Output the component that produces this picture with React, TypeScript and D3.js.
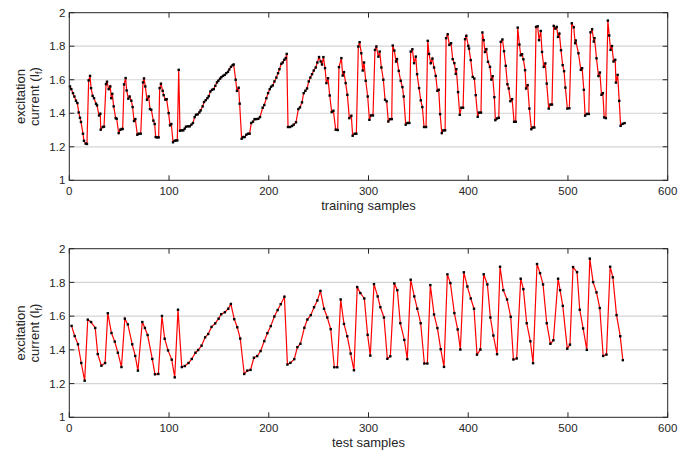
import React, { useEffect, useRef } from 'react';
import * as d3 from 'd3';

// training samples (x = sample index, y = excitation current)
const trainX = [
  0.7, 2.0, 3.7, 5.1, 6.7, 8.1, 9.4, 10.7, 11.7, 13.7, 14.7, 16.4, 17.7, 19.4, 20.8, 21.8, 23.4, 24.8, 26.8, 27.8,
  29.8, 31.1, 31.5, 33.5, 34.8, 36.8, 37.8, 39.5, 41.1, 42.1, 43.1, 44.5, 46.5, 47.5, 49.5, 51.2, 52.5, 53.5, 54.9, 56.5,
  57.5, 59.2, 60.5, 62.2, 63.5, 64.9, 66.2, 68.2, 69.6, 71.6, 73.9, 74.9, 76.2, 77.9, 79.6, 80.9, 82.2, 84.3, 85.6, 86.6,
  87.9, 89.6, 90.6, 91.9, 93.6, 94.6, 96.3, 97.6, 99.6, 101, 102.3, 104, 105.6, 107.3, 108.3, 109.7, 111, 112.7, 114.3, 115.7,
  117, 119, 120.7, 122.4, 124, 125.7, 127, 128.7, 130.4, 131.7, 133.7, 135.1, 136.8, 138.5, 139.8, 141.5, 143.1, 144.8, 146.4, 148.1,
  149.4, 151.1, 152.4, 154.1, 155.8, 157.4, 159.1, 160.4, 162.1, 163.8, 164.8, 166.8, 168.1, 169.8, 170.8, 172.8, 174.2, 175.8, 177.5, 179.2,
  180.8, 182.5, 184.2, 185.8, 187.5, 189.5, 191.2, 193.9, 195.5, 197.6, 199.3, 201, 202.3, 204, 205.7, 207.6, 209.3, 210.7, 212.6, 214,
  215.6, 217, 218, 219.3, 221.3, 223.3, 225, 227.3, 229.7, 231.3, 233.3, 235, 236.7, 238.4, 240.1, 241.7, 243.4, 245.1, 247.1, 248.7,
  250.4, 252.1, 253.4, 254.8, 256.4, 257.8, 259.4, 261.1, 263.1, 264.8, 267.1, 269.1, 270.4, 272.8, 274.1, 275.4, 277.1, 278.8, 280.8, 282.8,
  284.1, 286.1, 287.8, 289.8, 291.1, 292.8, 294.2, 295.5, 297.2, 299.2, 300.9, 302.5, 304.5, 306.5, 307.9, 309.9, 311.2, 312.9, 314.9, 316.6,
  318.2, 319.9, 321.6, 323.3, 324.3, 325.9, 327.6, 328.6, 330.3, 332.3, 334, 335.3, 337.3, 339, 341, 342.3, 344, 345.7, 347.4, 348.7,
  350.7, 352.4, 354, 355.7, 357.7, 359.4, 360.7, 362.4, 364.1, 365.7, 367.4, 369.1, 370.4, 371.8, 373.5, 375.1, 376.8, 377.8, 379.4, 381.1,
  382.8, 384.4, 386.1, 387.5, 388.1, 389.8, 391.5, 393.1, 394.8, 396.8, 398.1, 400.1, 400.8, 402.5, 404.5, 406.1, 407.5, 409.5, 410.8, 412.8,
  414.2, 415.5, 416.8, 418.2, 419.8, 421.8, 423.2, 424.5, 426.2, 427.2, 428.9, 430.6, 432.6, 434.3, 435.9, 437.6, 439.3, 440.6, 442.3, 444,
  446, 447.6, 449.6, 451.3, 452.6, 454, 455.3, 457, 458, 459.6, 461.3, 463.3, 464.6, 466.3, 468, 469.6, 471, 472.7, 474, 475.7,
  477.3, 478.7, 480.7, 482.4, 484, 485.7, 487.4, 488.7, 490, 491.4, 493, 494.7, 496.1, 497.4, 499.4, 501.4, 503.8, 505.8, 507.2, 507.8,
  510.5, 512.9, 514.2, 515.9, 517.2, 518.9, 520.9, 522.6, 524.2, 525.9, 526.6, 528.6, 530.6, 532, 533.6, 535, 536.3, 538, 540, 541.4,
  542.7, 544.1, 545.7, 547.4, 548.1, 549.8, 551.4, 552.8, 554.8, 556.8,
];
const trainY = [
  1.56, 1.544, 1.52, 1.5, 1.475, 1.461, 1.405, 1.373, 1.348, 1.278, 1.236, 1.219, 1.217, 1.596, 1.623, 1.55, 1.504, 1.49, 1.457, 1.447,
  1.387, 1.397, 1.302, 1.318, 1.32, 1.574, 1.588, 1.544, 1.56, 1.49, 1.516, 1.441, 1.371, 1.367, 1.282, 1.302, 1.306, 1.306, 1.572, 1.61,
  1.536, 1.487, 1.5, 1.475, 1.437, 1.354, 1.365, 1.272, 1.278, 1.278, 1.584, 1.608, 1.56, 1.481, 1.5, 1.425, 1.421, 1.356, 1.336, 1.258,
  1.256, 1.256, 1.55, 1.576, 1.534, 1.508, 1.481, 1.484, 1.401, 1.328, 1.336, 1.227, 1.236, 1.238, 1.238, 1.659, 1.296, 1.298, 1.298, 1.308,
  1.32, 1.322, 1.322, 1.332, 1.342, 1.377, 1.391, 1.393, 1.405, 1.417, 1.441, 1.467, 1.478, 1.49, 1.502, 1.53, 1.54, 1.544, 1.564, 1.584,
  1.594, 1.606, 1.615, 1.623, 1.629, 1.639, 1.647, 1.661, 1.677, 1.687, 1.691, 1.6, 1.534, 1.552, 1.457, 1.248, 1.258, 1.258, 1.272, 1.278,
  1.278, 1.342, 1.35, 1.365, 1.365, 1.367, 1.377, 1.433, 1.449, 1.49, 1.52, 1.544, 1.558, 1.566, 1.59, 1.613, 1.639, 1.663, 1.695, 1.703,
  1.719, 1.729, 1.754, 1.318, 1.318, 1.324, 1.332, 1.346, 1.425, 1.435, 1.465, 1.52, 1.534, 1.548, 1.59, 1.613, 1.633, 1.655, 1.673, 1.703,
  1.735, 1.709, 1.691, 1.735, 1.669, 1.58, 1.609, 1.506, 1.407, 1.415, 1.302, 1.3, 1.675, 1.729, 1.625, 1.645, 1.58, 1.51, 1.371, 1.385,
  1.266, 1.278, 1.278, 1.798, 1.824, 1.758, 1.655, 1.703, 1.594, 1.5, 1.361, 1.387, 1.387, 1.778, 1.798, 1.738, 1.768, 1.673, 1.6, 1.481,
  1.471, 1.351, 1.365, 1.365, 1.804, 1.774, 1.709, 1.723, 1.653, 1.594, 1.556, 1.5, 1.332, 1.342, 1.342, 1.768, 1.782, 1.699, 1.738, 1.633,
  1.55, 1.477, 1.437, 1.318, 1.318, 1.832, 1.754, 1.699, 1.726, 1.673, 1.623, 1.534, 1.54, 1.395, 1.282, 1.298, 1.298, 1.848, 1.871, 1.808,
  1.818, 1.723, 1.699, 1.635, 1.663, 1.526, 1.391, 1.433, 1.433, 1.842, 1.862, 1.802, 1.786, 1.717, 1.617, 1.607, 1.508, 1.379, 1.404, 1.404,
  1.882, 1.836, 1.766, 1.782, 1.707, 1.677, 1.601, 1.621, 1.496, 1.359, 1.369, 1.373, 1.826, 1.84, 1.77, 1.683, 1.573, 1.548, 1.472, 1.484,
  1.349, 1.349, 1.911, 1.81, 1.746, 1.752, 1.722, 1.657, 1.548, 1.567, 1.428, 1.305, 1.315, 1.315, 1.915, 1.919, 1.836, 1.891, 1.766, 1.677,
  1.697, 1.577, 1.428, 1.452, 1.452, 1.921, 1.905, 1.915, 1.856, 1.875, 1.776, 1.687, 1.651, 1.553, 1.428, 1.43, 1.937, 1.913, 1.818, 1.834,
  1.758, 1.659, 1.669, 1.54, 1.386, 1.396, 1.396, 1.883, 1.901, 1.828, 1.848, 1.728, 1.623, 1.643, 1.51, 1.52, 1.375, 1.371, 1.953, 1.864,
  1.778, 1.801, 1.709, 1.719, 1.583, 1.629, 1.474, 1.325, 1.337, 1.341,
];

// test samples
const testX = [
  2.3, 5.4, 8.7, 12, 15.4, 18.5, 21.8, 26, 28.5, 32.2, 35.9, 38.6, 42.3, 45.6, 48.7, 52.3, 55.7, 58.7, 63.1, 66.1,
  68.8, 73.2, 75.8, 78.5, 83.2, 85.9, 89.3, 92.9, 95.6, 99, 102.7, 105.7, 109, 112.8, 115.8, 119.5, 122.8, 126.5, 129.2, 132.6,
  136.2, 139.3, 142.6, 146.3, 149.7, 152.3, 156, 159.4, 162, 165.4, 168.4, 171.4, 175.4, 178.5, 181.7, 185.1, 188.4, 191.8, 195.5, 198.6,
  202, 205.6, 208.9, 212, 215.7, 218.7, 221.7, 225.6, 228.7, 231.7, 235.7, 238.7, 242.1, 245.4, 248.7, 251.8, 255.4, 258.7, 262.1, 265.7,
  268.7, 272.1, 275.4, 278.7, 282.1, 285.4, 288.7, 291.8, 295.8, 299.1, 301.8, 305.5, 309.2, 311.9, 315.5, 318.9, 321.9, 325.9, 328.9, 331.9,
  335.9, 338.9, 342.3, 345.9, 348.9, 352.3, 356, 359, 362, 365.7, 369.1, 372.4, 375.7, 379.1, 382.1, 386.1, 389.4, 392.1, 395.6, 399.1,
  402.5, 405.8, 408.8, 412.2, 415.5, 419.2, 422.2, 425.2, 428.9, 431.9, 435.2, 438.9, 442.6, 445.3, 448.6, 452.6, 455.3, 458.6, 462.3, 465,
  469, 472, 475, 478.7, 482.4, 485.4, 490.1, 492.1, 494.8, 499.3, 502, 505.1, 509.1, 511.8, 515.2, 518.9, 521.9, 525.2, 528.6, 531.9,
  535.3, 538.6, 542.3, 545, 548.7, 552.4, 555,
];
const testY = [
  1.542, 1.482, 1.433, 1.322, 1.217, 1.579, 1.565, 1.53, 1.375, 1.306, 1.322, 1.617, 1.5, 1.449, 1.383, 1.298, 1.585, 1.551, 1.433, 1.364,
  1.277, 1.565, 1.53, 1.488, 1.346, 1.255, 1.257, 1.601, 1.466, 1.397, 1.342, 1.237, 1.638, 1.298, 1.304, 1.322, 1.346, 1.383, 1.399, 1.425,
  1.474, 1.494, 1.536, 1.557, 1.585, 1.611, 1.623, 1.644, 1.672, 1.582, 1.534, 1.467, 1.257, 1.277, 1.281, 1.353, 1.363, 1.393, 1.452, 1.499,
  1.541, 1.598, 1.636, 1.671, 1.715, 1.313, 1.323, 1.345, 1.416, 1.436, 1.531, 1.58, 1.606, 1.653, 1.693, 1.749, 1.644, 1.592, 1.523, 1.297,
  1.297, 1.699, 1.554, 1.481, 1.378, 1.279, 1.772, 1.737, 1.705, 1.489, 1.366, 1.79, 1.717, 1.653, 1.592, 1.347, 1.362, 1.794, 1.754, 1.558,
  1.459, 1.345, 1.816, 1.717, 1.644, 1.558, 1.319, 1.319, 1.784, 1.61, 1.529, 1.404, 1.299, 1.848, 1.796, 1.618, 1.521, 1.402, 1.86, 1.776,
  1.705, 1.644, 1.372, 1.402, 1.848, 1.788, 1.592, 1.485, 1.374, 1.893, 1.754, 1.699, 1.596, 1.343, 1.349, 1.822, 1.76, 1.558, 1.451, 1.321,
  1.909, 1.855, 1.788, 1.558, 1.436, 1.457, 1.822, 1.754, 1.661, 1.407, 1.431, 1.891, 1.861, 1.638, 1.527, 1.4, 1.941, 1.802, 1.741, 1.648,
  1.364, 1.372, 1.893, 1.83, 1.606, 1.481, 1.339,
];

const xTicks = [0, 100, 200, 300, 400, 500, 600];
const yTicks = [1, 1.2, 1.4, 1.6, 1.8, 2];

const panels = [
  { x: trainX, y: trainY, label: 'training samples', top: 12.7, bottom: 180.3 },
  { x: testX, y: testY, label: 'test samples', top: 248.7, bottom: 417.3 },
];

const W = 678;
const H = 454;
const LEFT = 69.3;
const RIGHT = 667.7;
const FONT = '"Liberation Sans", Arial, Helvetica, sans-serif';
const INK = '#262626';

const App = () => {
  const svgRef = useRef(null);

  useEffect(() => {
    const svg = d3.select(svgRef.current);
    svg.selectAll('*').remove();

    const xScale = d3.scaleLinear().domain([0, 600]).range([LEFT, RIGHT]);

    panels.forEach(p => {
      const yScale = d3.scaleLinear().domain([1, 2]).range([p.bottom, p.top]);
      const g = svg.append('g');
      const tick = 5;

      // horizontal grid lines
      g.selectAll('.grid')
        .data(yTicks.filter(t => t > 1 && t < 2))
        .enter()
        .append('line')
        .attr('x1', LEFT).attr('x2', RIGHT)
        .attr('y1', d => yScale(d)).attr('y2', d => yScale(d))
        .attr('stroke', '#d4d4d4')
        .attr('stroke-width', 1.2);

      // series
      const pts = p.x.map((v, i) => [v, p.y[i]]);
      const line = d3.line().x(d => xScale(d[0])).y(d => yScale(d[1]));
      g.append('path')
        .attr('d', line(pts))
        .attr('fill', 'none')
        .attr('stroke', '#ff0000')
        .attr('stroke-width', 1.2);

      g.selectAll('.dot')
        .data(pts)
        .enter()
        .append('rect')
        .attr('x', d => xScale(d[0]) - 1.2)
        .attr('y', d => yScale(d[1]) - 1.2)
        .attr('width', 2.4)
        .attr('height', 2.4)
        .attr('fill', '#000');

      // frame box
      g.append('rect')
        .attr('x', LEFT).attr('y', p.top)
        .attr('width', RIGHT - LEFT).attr('height', p.bottom - p.top)
        .attr('fill', 'none')
        .attr('stroke', INK)
        .attr('stroke-width', 1);

      // inward ticks on all four sides
      xTicks.forEach(t => {
        const x = xScale(t);
        g.append('line').attr('x1', x).attr('x2', x).attr('y1', p.bottom).attr('y2', p.bottom - tick).attr('stroke', INK);
        g.append('line').attr('x1', x).attr('x2', x).attr('y1', p.top).attr('y2', p.top + tick).attr('stroke', INK);
        g.append('text')
          .attr('x', x).attr('y', p.bottom + 15)
          .attr('text-anchor', 'middle')
          .attr('font-family', FONT).attr('font-size', 11.5).attr('fill', INK)
          .text(String(t));
      });
      yTicks.forEach(t => {
        const y = yScale(t);
        g.append('line').attr('x1', LEFT).attr('x2', LEFT + tick).attr('y1', y).attr('y2', y).attr('stroke', INK);
        g.append('line').attr('x1', RIGHT).attr('x2', RIGHT - tick).attr('y1', y).attr('y2', y).attr('stroke', INK);
        g.append('text')
          .attr('x', LEFT - 4).attr('y', y).attr('dy', '0.36em')
          .attr('text-anchor', 'end')
          .attr('font-family', FONT).attr('font-size', 11.5).attr('fill', INK)
          .text(d3.format('~g')(t));
      });

      // x label
      g.append('text')
        .attr('x', (LEFT + RIGHT) / 2).attr('y', p.bottom + 30)
        .attr('text-anchor', 'middle')
        .attr('font-family', FONT).attr('font-size', 13).attr('fill', INK)
        .text(p.label);

      // y label, two lines
      const cy = (p.top + p.bottom) / 2;
      g.append('text')
        .attr('transform', `translate(25,${cy}) rotate(-90)`)
        .attr('text-anchor', 'middle')
        .attr('font-family', FONT).attr('font-size', 13).attr('fill', INK)
        .text('excitation');
      const t2 = g.append('text')
        .attr('transform', `translate(38.5,${cy}) rotate(-90)`)
        .attr('text-anchor', 'middle')
        .attr('font-family', FONT).attr('font-size', 13).attr('fill', INK);
      t2.append('tspan').text('current (I');
      t2.append('tspan').attr('font-size', 9).attr('dy', 3).text('f');
      t2.append('tspan').attr('dy', -3).text(')');
    });
  }, []);

  return (
    <div style={{ position: 'absolute', left: 0, top: 0, width: W, height: H, background: '#fff' }}>
      <svg ref={svgRef} width={W} height={H} style={{ display: 'block' }} />
    </div>
  );
};

export default App;
